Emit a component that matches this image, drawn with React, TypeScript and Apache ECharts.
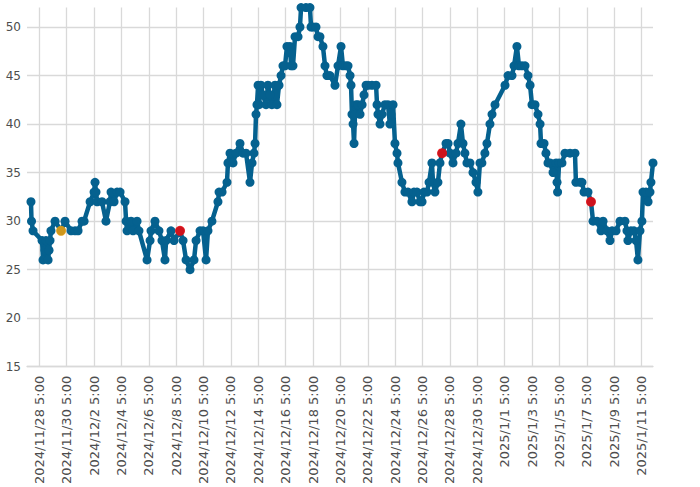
import React, { useEffect, useRef } from "react";
import * as echarts from "echarts";

// x = days since 2024/11/28 5:00, y = reading
const readings: [number, number][] = [
  [-0.61, 32], [-0.57, 30], [-0.46, 29], [0.2, 28], [0.27, 26], [0.42, 27], [0.49, 28], [0.64, 26], [0.71, 27], [0.78, 28],
  [0.85, 29], [1.15, 30], [1.59, 29], [1.88, 30], [2.32, 29], [2.61, 29], [2.83, 29], [3.12, 30], [3.27, 30], [3.71, 32],
  [4.0, 33], [4.07, 34], [4.14, 33], [4.22, 32], [4.58, 32], [4.87, 30], [5.16, 32], [5.24, 33], [5.46, 32], [5.68, 33],
  [5.9, 33], [6.26, 32], [6.34, 30], [6.41, 29], [6.7, 30], [6.85, 29], [7.14, 30], [7.28, 29], [7.87, 26], [8.09, 28],
  [8.16, 29], [8.45, 30], [8.74, 29], [8.96, 28], [9.18, 26], [9.26, 28], [9.62, 29], [9.84, 28], [10.28, 29], [10.5, 28],
  [10.72, 26], [11.01, 25], [11.3, 26], [11.45, 28], [11.74, 29], [11.96, 29], [12.18, 26], [12.32, 29], [12.61, 30], [13.05, 32],
  [13.13, 33], [13.35, 33], [13.71, 34], [13.78, 36], [13.93, 37], [14.15, 36], [14.37, 37], [14.66, 38], [14.88, 37], [15.1, 37],
  [15.39, 34], [15.54, 36], [15.68, 37], [15.76, 38], [15.83, 41], [15.9, 42], [15.98, 44], [16.05, 42], [16.19, 44], [16.34, 43],
  [16.56, 42], [16.7, 44], [16.85, 43], [16.99, 42], [17.22, 44], [17.36, 42], [17.51, 44], [17.66, 45], [17.8, 46], [17.95, 46],
  [18.09, 48], [18.31, 48], [18.39, 46], [18.53, 46], [18.68, 49], [18.9, 49], [19.04, 50], [19.12, 52], [19.48, 52], [19.77, 52],
  [19.85, 50], [19.99, 50], [20.21, 50], [20.36, 49], [20.5, 49], [20.72, 48], [20.87, 46], [21.01, 45], [21.23, 45], [21.6, 44],
  [21.82, 46], [22.04, 48], [22.18, 46], [22.4, 46], [22.55, 46], [22.7, 45], [22.77, 44], [22.84, 41], [22.92, 40], [22.99, 38],
  [23.06, 41], [23.14, 42], [23.28, 42], [23.43, 41], [23.58, 42], [23.72, 43], [23.87, 44], [24.01, 44], [24.3, 44], [24.6, 44],
  [24.67, 42], [24.74, 41], [24.89, 40], [25.03, 41], [25.25, 42], [25.47, 42], [25.61, 40], [25.69, 41], [25.84, 42], [25.98, 38],
  [26.13, 37], [26.2, 36], [26.49, 34], [26.71, 33], [26.93, 33], [27.22, 32], [27.37, 33], [27.59, 33], [27.81, 32], [27.96, 32],
  [28.1, 33], [28.32, 33], [28.47, 34], [28.68, 36], [28.76, 34], [28.9, 33], [29.12, 34], [29.27, 36], [29.42, 37], [29.71, 38],
  [29.86, 38], [30.0, 37], [30.22, 36], [30.44, 37], [30.58, 38], [30.8, 40], [30.95, 38], [31.09, 37], [31.24, 36], [31.46, 36],
  [31.68, 35], [31.9, 34], [32.04, 33], [32.19, 36], [32.33, 36], [32.55, 37], [32.7, 38], [32.92, 40], [33.07, 41], [33.29, 42],
  [34.02, 44], [34.24, 45], [34.53, 45], [34.68, 46], [34.89, 48], [35.04, 46], [35.26, 46], [35.48, 46], [35.7, 45], [35.85, 44],
  [35.99, 42], [36.21, 42], [36.43, 41], [36.58, 40], [36.65, 38], [36.87, 38], [37.01, 37], [37.16, 36], [37.31, 36], [37.53, 35],
  [37.75, 36], [37.82, 34], [37.86, 33], [37.97, 36], [38.18, 36], [38.4, 37], [38.77, 37], [39.13, 37], [39.2, 34], [39.5, 34],
  [39.64, 34], [39.79, 33], [40.08, 33], [40.3, 32], [40.45, 30], [40.74, 30], [41.03, 29], [41.18, 30], [41.47, 29], [41.69, 28],
  [41.84, 29], [42.13, 29], [42.42, 30], [42.78, 30], [42.93, 29], [43.0, 28], [43.22, 29], [43.44, 29], [43.59, 28], [43.73, 26],
  [43.88, 29], [44.02, 30], [44.1, 33], [44.32, 33], [44.47, 32], [44.61, 33], [44.68, 34], [44.83, 36],
];

const orangePoints: [number, number][] = [[1.59, 29]];
const redPoints: [number, number][] = [[10.28, 29], [29.42, 37], [40.3, 32]];

const xTickDays = [0, 2, 4, 6, 8, 10, 12, 14, 16, 18, 20, 22, 24, 26, 28, 30, 32, 34, 36, 38, 40, 42, 44];
const xTickLabels = [
  "2024/11/28 5:00", "2024/11/30 5:00", "2024/12/2 5:00", "2024/12/4 5:00", "2024/12/6 5:00", "2024/12/8 5:00",
  "2024/12/10 5:00", "2024/12/12 5:00", "2024/12/14 5:00", "2024/12/16 5:00", "2024/12/18 5:00", "2024/12/20 5:00",
  "2024/12/22 5:00", "2024/12/24 5:00", "2024/12/26 5:00", "2024/12/28 5:00", "2024/12/30 5:00", "2025/1/1 5:00",
  "2025/1/3 5:00", "2025/1/5 5:00", "2025/1/7 5:00", "2025/1/9 5:00", "2025/1/11 5:00",
];
const yTicks = [15, 20, 25, 30, 35, 40, 45, 50];

const LINE = "#05618f";
const GRID = "#d9d9d9";
const TEXT = "#4d4d4d";

export default function App() {
  const ref = useRef<HTMLDivElement>(null);
  useEffect(() => {
    document.body.style.margin = "0";
    const chart = echarts.init(ref.current!, undefined, { renderer: "svg" });
    chart.setOption({
      animation: false,
      backgroundColor: "#ffffff",
      grid: { left: 27, right: 47, top: 7.6, bottom: 120, containLabel: false },
      xAxis: {
        type: "value",
        min: -0.9,
        max: 44.83,
        axisLine: { show: true, lineStyle: { color: GRID, width: 1.3 } },
        axisTick: { show: false, customValues: xTickDays },
        splitLine: { show: true, lineStyle: { color: GRID, width: 1.3 } },
        axisLabel: {
          customValues: xTickDays,
          rotate: 90,
          margin: 9,
          color: TEXT,
          fontFamily: "DejaVu Sans",
          fontSize: 13,
          formatter: (v: number) => {
            const i = xTickDays.findIndex((d) => Math.abs(d - v) < 1e-6);
            return i >= 0 ? xTickLabels[i] : "";
          },
        },
      },
      yAxis: {
        type: "value",
        min: 15,
        max: 52,
        axisLine: { show: false },
        axisTick: { show: false, customValues: yTicks },
        splitLine: { show: true, lineStyle: { color: GRID, width: 1.3 } },
        axisLabel: {
          customValues: yTicks,
          margin: 6,
          color: TEXT,
          fontFamily: "DejaVu Sans",
          fontSize: 12,
        },
      },
      series: [
        {
          type: "line",
          data: readings,
          symbol: "circle",
          symbolSize: 9,
          showSymbol: true,
          lineStyle: { color: LINE, width: 4.5, join: "round" },
          itemStyle: { color: LINE },
          z: 2,
        },
        {
          type: "scatter",
          data: orangePoints,
          symbol: "circle",
          symbolSize: 10,
          itemStyle: { color: "#FFA500" },
          z: 5,
        },
        {
          type: "scatter",
          data: redPoints,
          symbol: "circle",
          symbolSize: 10,
          itemStyle: { color: "#FF0000" },
          z: 5,
        },
      ],
    });
    return () => chart.dispose();
  }, []);
  return <div ref={ref} style={{ width: 700, height: 487 }} />;
}
